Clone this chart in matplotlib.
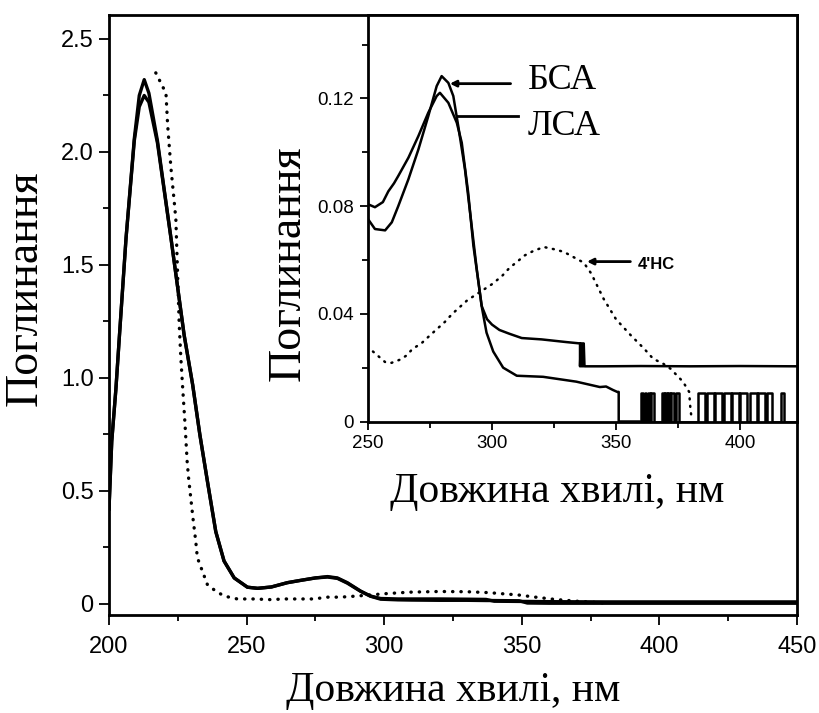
import matplotlib
matplotlib.use("Agg")
import matplotlib.pyplot as plt
from matplotlib.ticker import MultipleLocator, FixedLocator, FixedFormatter

# ---------------- data ----------------
# main panel, wavelength in nm, absorbance
main_wl = [200, 201, 202.5, 203.7, 206.2, 209.2, 211, 212.8, 214.5, 217.6, 222.5, 227.3,
           230.4, 233, 235.8, 238.8, 241.8, 245.5, 250.3, 254, 259, 264.8, 270, 275,
           279.4, 283, 286.6, 291.4, 295, 298.7, 305, 310, 320, 330, 337, 340, 349,
           352, 360, 380, 400, 420, 450]
main_bsa = [0.42, 0.72, 0.95, 1.17, 1.62, 2.06, 2.25, 2.32, 2.26, 2.05, 1.62, 1.19,
            0.97, 0.75, 0.54, 0.32, 0.19, 0.115, 0.074, 0.069, 0.075, 0.094, 0.105, 0.115,
            0.121, 0.115, 0.094, 0.057, 0.035, 0.024, 0.022, 0.022, 0.022, 0.021, 0.02,
            0.012, 0.011, 0.011, 0.01, 0.009, 0.009, 0.009, 0.009]
main_lsa = [0.42, 0.72, 0.95, 1.17, 1.62, 2.05, 2.20, 2.25, 2.22, 2.04, 1.62, 1.19,
            0.97, 0.75, 0.54, 0.32, 0.19, 0.115, 0.074, 0.069, 0.075, 0.094, 0.105, 0.115,
            0.119, 0.113, 0.092, 0.056, 0.034, 0.021, 0.018, 0.017, 0.016, 0.016, 0.015,
            0.015, 0.014, 0.004, 0.003, 0.003, 0.003, 0.003, 0.003]
main_hc_wl = [217, 220.7, 221.3, 222.5, 223.7, 224.3, 225.5, 226.1, 226.7, 227.6, 228.4,
              228.9, 229.7, 230.6, 231.5, 232.1, 235.8, 238.8, 241.8, 246.6, 252.7, 258.7,
              263.6, 269, 274.4, 279.3, 284.1, 290.2, 300, 309, 320, 330, 338, 343, 348.5,
              355, 362, 370, 380]
main_hc = [2.35, 2.26, 2.12, 1.93, 1.78, 1.70, 1.24, 1.09, 0.97, 0.80, 0.63,
           0.56, 0.47, 0.37, 0.28, 0.205, 0.084, 0.057, 0.035, 0.022, 0.022, 0.019,
           0.022, 0.022, 0.022, 0.030, 0.030, 0.035, 0.045, 0.052, 0.055, 0.054, 0.050,
           0.045, 0.040, 0.030, 0.020, 0.012, 0.004]

# inset panel
ins_bsa_wl = [250, 252.8, 256.9, 259.6, 262.2, 266.3, 270.3, 274.3, 277.7, 279.7, 282.4,
              284.4, 286.4, 289.1, 291.8, 293.8, 295.8, 298, 300, 303, 307, 312, 320, 330,
              335.5, 335.5, 335.8, 336.1, 336.4, 336.7, 337.0, 337.3, 337.6, 345, 360,
              380, 400, 423]
ins_bsa = [0.0752, 0.0715, 0.0710, 0.074, 0.080, 0.090, 0.101, 0.1134, 0.1246, 0.1283, 0.1258,
           0.1209, 0.1097, 0.0937, 0.0727, 0.057, 0.043, 0.038, 0.036, 0.034, 0.0326, 0.031,
           0.0305, 0.0295, 0.029, 0.0205, 0.029, 0.0205, 0.029, 0.0205, 0.029, 0.0205,
           0.0205, 0.0205, 0.0206, 0.0205, 0.0206, 0.0205]
ins_lsa_wl = [250, 252.8, 256, 258.2, 260.5, 262.2, 266.3, 270.3, 274.3, 277.7, 279, 282.4,
              285.8, 287.8, 290.4, 292.5, 294.5, 296, 297.8, 300.5, 304.5, 310, 320.6, 334,
              343.5, 346, 348.8, 350.5, 351.1, 351.1, 359.5]
ins_lsa = [0.0807, 0.0796, 0.0815, 0.0855, 0.0885, 0.0912, 0.098, 0.106, 0.1147, 0.1209,
           0.1221, 0.1184, 0.111, 0.1036, 0.085, 0.0653, 0.052, 0.042, 0.033, 0.026, 0.020,
           0.017, 0.0166, 0.0148, 0.0128, 0.0130, 0.0117, 0.0110, 0.0110, 0.0, 0.0]
# noisy on/off pulses of the ЛСА trace above 355 nm: (start, end) in nm
lsa_pulse_start = [360.0, 361.6, 362.8, 364.2, 368.5, 369.8, 370.9, 372.2, 374.3, 383.2,
                   386.6, 390.0, 393.4, 396.8, 400.2, 404.0, 407.3, 411.0, 416.4]
lsa_pulse_end = [361.0, 362.3, 363.6, 365.4, 369.3, 370.5, 371.7, 373.4, 375.6, 386.0,
                 389.4, 392.8, 396.2, 399.6, 403.0, 406.7, 410.0, 413.0, 417.8]
lsa_pulse_height = 0.0105

ins_hc_wl = [252, 257, 259.5, 263, 265.5, 268, 271.5, 275, 278, 281, 284, 287, 290, 295,
             300, 304, 307, 311, 313, 317, 321, 325, 329, 333, 337, 340, 345, 350, 356,
             361.4, 365, 369, 372, 377, 379.5, 380, 380.5]
ins_hc = [0.026, 0.022, 0.0218, 0.023, 0.0245, 0.027, 0.029, 0.032, 0.0345, 0.037, 0.040,
          0.0425, 0.045, 0.048, 0.051, 0.054, 0.057, 0.060, 0.0616, 0.0635, 0.0648, 0.064,
          0.063, 0.061, 0.059, 0.055, 0.0456, 0.038, 0.032, 0.027, 0.0233, 0.0215, 0.0196,
          0.0148, 0.011, 0.005, 0.001]

main_xticks = [200, 250, 300, 350, 400, 450]
main_yticks = [0, 0.5, 1.0, 1.5, 2.0, 2.5]
main_ytick_labels = ["0", "0.5", "1.0", "1.5", "2.0", "2.5"]
ins_xticks = [250, 300, 350, 400]
ins_yticks = [0, 0.04, 0.08, 0.12]
ins_ytick_labels = ["0", "0.04", "0.08", "0.12"]

label_x = "Довжина хвилі, нм"
label_y = "Поглинання"

# ---------------- figure ----------------
SANS = ["Liberation Sans", "DejaVu Sans"]
SERIF = ["Liberation Serif", "DejaVu Serif"]

fig = plt.figure(figsize=(8.19, 7.13), dpi=100)
ax = fig.add_axes([109 / 819, 1 - 615 / 713, 688 / 819, 600 / 713])

lw = 2.4
ax.plot(main_wl, main_bsa, color="black", lw=lw, solid_joinstyle="round")
ax.plot(main_wl, main_lsa, color="black", lw=lw, solid_joinstyle="round")
ax.plot(main_hc_wl, main_hc, color="black", lw=2.4, linestyle=(0, (0.1, 2.4)),
        dash_capstyle="round")

ax.set_xlim(200, 450)
ax.set_ylim(-0.049, 2.606)
ax.xaxis.set_major_locator(FixedLocator(main_xticks))
ax.xaxis.set_minor_locator(MultipleLocator(25))
ax.yaxis.set_major_locator(FixedLocator(main_yticks))
ax.yaxis.set_major_formatter(FixedFormatter(main_ytick_labels))
ax.yaxis.set_minor_locator(MultipleLocator(0.25))
for s in ax.spines.values():
    s.set_linewidth(2.0)
ax.tick_params(which="both", direction="out", width=1.3, top=False, right=False)
ax.tick_params(which="major", length=7, labelsize=17)
ax.tick_params(axis="x", which="major", pad=8)
ax.tick_params(axis="y", which="major", pad=4)
ax.tick_params(which="minor", length=4.5)
for t in ax.get_xticklabels() + ax.get_yticklabels():
    t.set_fontfamily(SANS)

ax.set_xlabel(label_x, fontsize=30, family=SERIF)
ax.xaxis.set_label_coords(0.5, -0.095)
ax.set_ylabel(label_y, fontsize=33, family=SERIF)
ax.yaxis.set_label_coords(-0.090, 0.545)

# ---------------- inset ----------------
ai = fig.add_axes([368 / 819, 1 - 421.5 / 713, 429 / 819, 406.5 / 713])
ai.set_facecolor("white")
lwi = 1.8
ai.plot(ins_bsa_wl, ins_bsa, color="black", lw=lwi, solid_joinstyle="round")
ai.plot(ins_lsa_wl, ins_lsa, color="black", lw=lwi, solid_joinstyle="round")
px, py = [], []
for s, e in zip(lsa_pulse_start, lsa_pulse_end):
    px += [s, s, e, e]
    py += [0, lsa_pulse_height, lsa_pulse_height, 0]
px.append(423)
py.append(0)
ai.plot([359.5] + px, [0] + py, color="black", lw=1.8)
ai.plot(ins_hc_wl, ins_hc, color="black", lw=1.8, linestyle=(0, (0.4, 2.6)),
        dash_capstyle="round")

ai.set_xlim(250, 423)
ai.set_ylim(0, 0.151)
ai.xaxis.set_major_locator(FixedLocator(ins_xticks))
ai.xaxis.set_minor_locator(MultipleLocator(25))
ai.yaxis.set_major_locator(FixedLocator(ins_yticks))
ai.yaxis.set_major_formatter(FixedFormatter(ins_ytick_labels))
ai.yaxis.set_minor_locator(MultipleLocator(0.02))
for s in ai.spines.values():
    s.set_linewidth(2.0)
ai.tick_params(which="both", direction="out", width=1.3, top=False, right=False)
ai.tick_params(which="major", length=6, pad=4, labelsize=13.5)
ai.tick_params(which="minor", length=4)
for t in ai.get_xticklabels() + ai.get_yticklabels():
    t.set_fontfamily(SANS)

ai.set_xlabel(label_x, fontsize=30, family=SERIF)
ai.xaxis.set_label_coords(0.44, -0.125)
ai.set_ylabel(label_y, fontsize=33, family=SERIF)
ai.yaxis.set_label_coords(-0.135, 0.39)

# annotations
ai.annotate("", xy=(283, 0.1255), xytext=(307.5, 0.1255),
            arrowprops=dict(arrowstyle="-|>", lw=2, color="black", mutation_scale=9,
                            shrinkA=0, shrinkB=0))
ai.text(314.5, 0.1265, "БСА", fontsize=26, family=SERIF, ha="left", va="center")
ai.plot([286, 310.5], [0.1133, 0.1133], color="black", lw=2)
ai.text(314.5, 0.1095, "ЛСА", fontsize=26, family=SERIF, ha="left", va="center")
ai.annotate("", xy=(338.3, 0.0594), xytext=(355.8, 0.0594),
            arrowprops=dict(arrowstyle="-|>", lw=2, color="black", mutation_scale=9,
                            shrinkA=0, shrinkB=0))
ai.text(358.6, 0.0585, "4'HC", fontsize=12, family=SANS, weight="bold",
        ha="left", va="center")

fig.savefig("out.png", dpi=100)
